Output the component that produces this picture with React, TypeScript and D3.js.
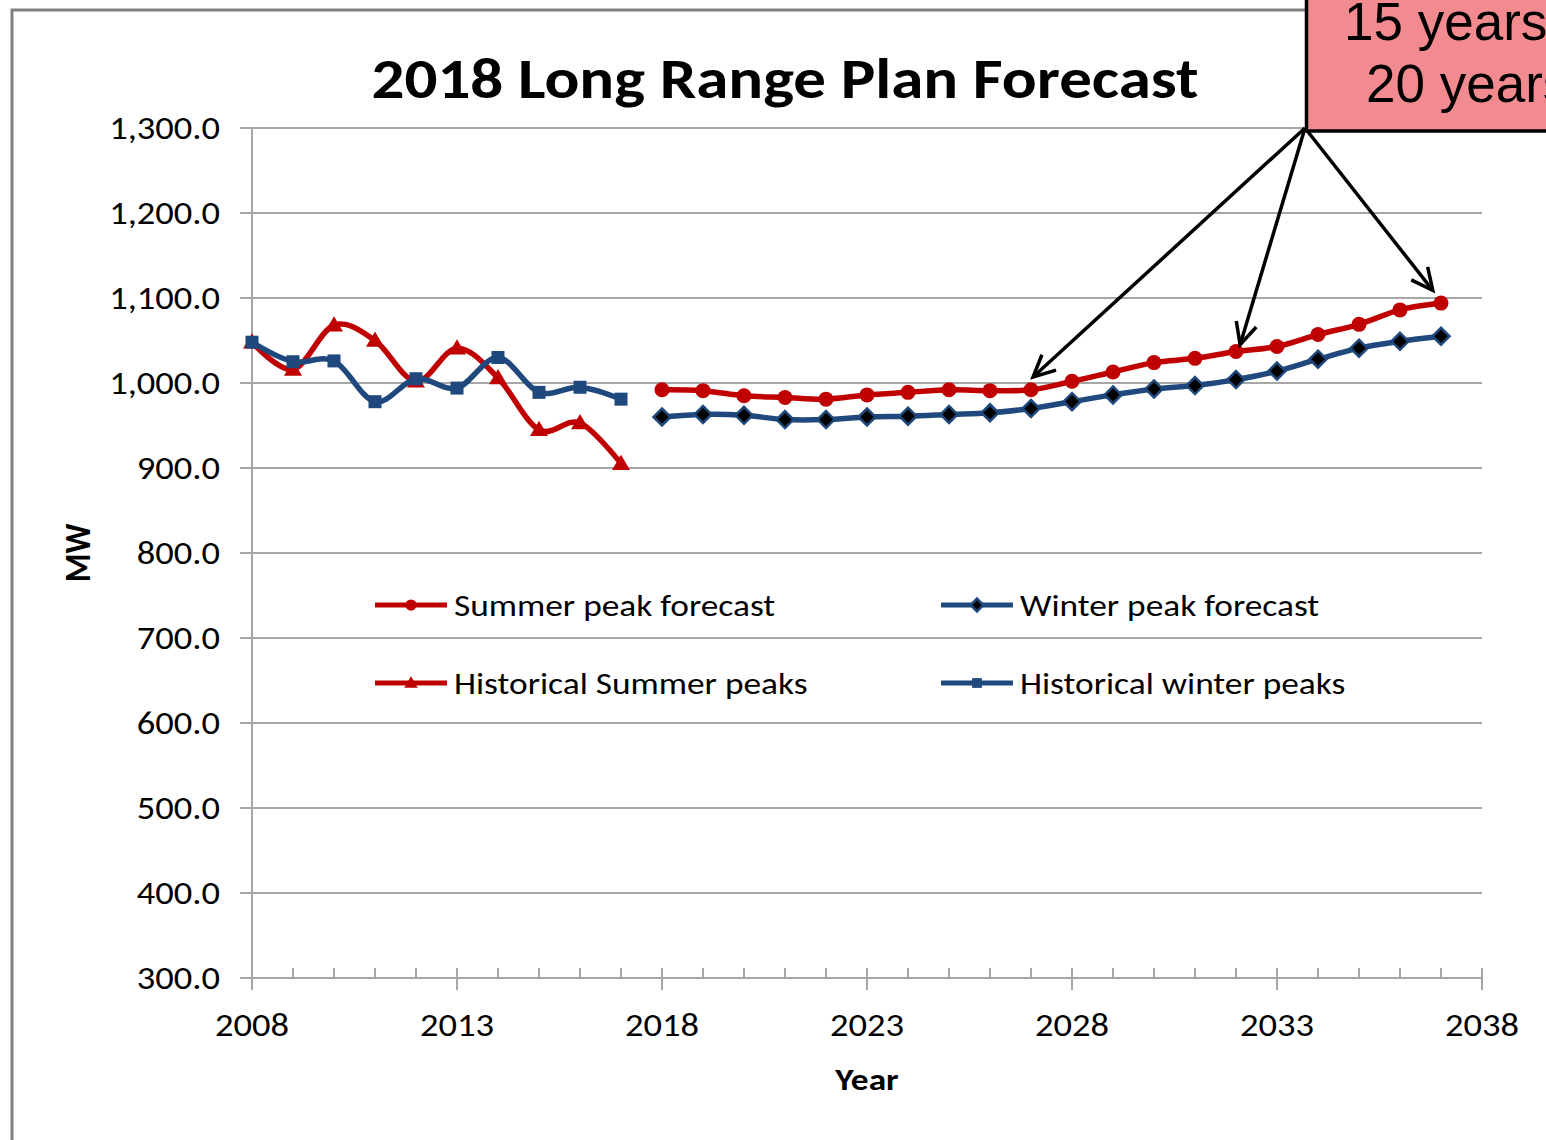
import React from "react";
import * as d3 from "d3";

const histYears = [2008, 2009, 2010, 2011, 2012, 2013, 2014, 2015, 2016, 2017];
const histSummer = [1048, 1016, 1068, 1050, 1002, 1041, 1006, 945, 953, 905];
const histWinter = [1048, 1025, 1026, 978, 1005, 994, 1030, 989, 995, 981];
const fcYears = [2018, 2019, 2020, 2021, 2022, 2023, 2024, 2025, 2026, 2027, 2028, 2029, 2030, 2031, 2032, 2033, 2034, 2035, 2036, 2037];
const fcSummer = [992, 991, 985, 983, 981, 986, 989, 992, 991, 992, 1002, 1013, 1024, 1029, 1037, 1043, 1057, 1069, 1086, 1094];
const fcWinter = [960, 963, 962, 957, 957, 960, 961, 963, 965, 970, 978, 986, 993, 997, 1004, 1014, 1028, 1041, 1049, 1055];
const yTicks = [300, 400, 500, 600, 700, 800, 900, 1000, 1100, 1200, 1300];
const xMajor = [2008, 2013, 2018, 2023, 2028, 2033, 2038];
const xMinor = d3.range(2008, 2039);
const calloutLines = ["15 years", "20 years"];
const legendItems = [
  { label: "Summer peak forecast", kind: "circle", color: "red" },
  { label: "Winter peak forecast", kind: "diamond", color: "blue" },
  { label: "Historical Summer peaks", kind: "triangle", color: "red" },
  { label: "Historical winter peaks", kind: "square", color: "blue" },
];
const arrowTargets = [
  [2027.05, 1007],
  [2032.1, 1045],
  [2036.8, 1109],
];

const RED = "#C00000";
const BLUE = "#1F497D";
const GRID = "#A6A6A6";
const FONT = "Carlito, Lato, 'Open Sans', sans-serif";
const SX = 1.14;

function SText({ x, y, anchor = "start", size, bold = false, children }: any) {
  return (
    <text
      transform={`translate(${x},${y}) scale(${SX},1)`}
      textAnchor={anchor}
      fontFamily={FONT}
      fontWeight={bold ? 700 : 400}
      fontSize={size}
      fill="#000"
    >
      {children}
    </text>
  );
}

function Marker({ kind, x, y, s = 1 }: { kind: string; x: number; y: number; s?: number }) {
  if (kind === "circle") return <circle cx={x} cy={y} r={7.5 * s} fill={RED} />;
  if (kind === "triangle") {
    const r = 9 * s;
    return <path d={`M${x},${y - r}L${x + r},${y + r * 0.7}L${x - r},${y + r * 0.7}Z`} fill={RED} />;
  }
  if (kind === "square") {
    const r = 6.5 * s;
    return <rect x={x - r} y={y - r} width={2 * r} height={2 * r} fill={BLUE} />;
  }
  const r = 8.5 * s;
  return (
    <path d={`M${x},${y - r}L${x + r},${y}L${x},${y + r}L${x - r},${y}Z`} fill="#000" stroke={BLUE} strokeWidth={2.5} />
  );
}

export default function App() {
  const W = 1546, H = 1140;
  const x = d3.scaleLinear().domain([2008, 2038]).range([252, 1482]);
  const y = d3.scaleLinear().domain([300, 1300]).range([978, 128]);
  const line = d3
    .line<[number, number]>()
    .x((d) => x(d[0]))
    .y((d) => y(d[1]))
    .curve(d3.curveCardinal.tension(0));

  const series = [
    { years: histYears, vals: histSummer, color: RED, kind: "triangle" },
    { years: histYears, vals: histWinter, color: BLUE, kind: "square" },
    { years: fcYears, vals: fcSummer, color: RED, kind: "circle" },
    { years: fcYears, vals: fcWinter, color: BLUE, kind: "diamond" },
  ];

  const origin = [1305, 128];
  const arrowHead = (tx: number, ty: number) => {
    const ang = Math.atan2(ty - origin[1], tx - origin[0]);
    const L = 24, a = 0.45;
    const p1 = [tx - L * Math.cos(ang - a), ty - L * Math.sin(ang - a)];
    const p2 = [tx - L * Math.cos(ang + a), ty - L * Math.sin(ang + a)];
    return `M${p1[0]},${p1[1]}L${tx},${ty}L${p2[0]},${p2[1]}`;
  };

  const legendPos = [
    [375, 605],
    [941, 605],
    [375, 683],
    [941, 683],
  ];

  const fmt = d3.format(",.1f");

  return (
    <svg width={W} height={H} style={{ position: "absolute", left: 0, top: 0, display: "block", background: "#fff" }}>
      {/* outer frame */}
      <path d={`M12,${H}L12,10L${W},10`} fill="none" stroke="#808080" strokeWidth={3} />

      {/* title */}
      <SText x={785} y={98} anchor="middle" size={57} bold>
        2018 Long Range Plan Forecast
      </SText>

      {/* gridlines */}
      {yTicks.map((t) => (
        <line key={t} x1={240} x2={1482} y1={y(t)} y2={y(t)} stroke={GRID} strokeWidth={2} />
      ))}
      {/* y axis */}
      <line x1={252} x2={252} y1={128} y2={990} stroke={GRID} strokeWidth={2} />
      {yTicks.map((t) => (
        <SText key={"yl" + t} x={220} y={y(t) + 11} anchor="end" size={32}>
          {fmt(t)}
        </SText>
      ))}
      {/* x ticks */}
      {xMinor.map((t) => (
        <line key={"mi" + t} x1={x(t)} x2={x(t)} y1={968} y2={978} stroke={GRID} strokeWidth={2} />
      ))}
      {xMajor.map((t) => (
        <line key={"ma" + t} x1={x(t)} x2={x(t)} y1={t === 2008 ? 978 : 968} y2={990} stroke={GRID} strokeWidth={2} />
      ))}
      {xMajor.map((t) => (
        <SText key={"xl" + t} x={x(t)} y={1036} anchor="middle" size={32}>
          {t}
        </SText>
      ))}

      {/* axis titles */}
      <SText x={867} y={1090} anchor="middle" size={31} bold>
        Year
      </SText>
      <text
        transform={`translate(90,553) rotate(-90) scale(1,1.1)`}
        textAnchor="middle"
        fontFamily={FONT}
        fontWeight={700}
        fontSize={33}
        fill="#000"
      >
        MW
      </text>

      {/* series */}
      {series.map((s, i) => {
        const pts = s.years.map((yr, j) => [yr, s.vals[j]] as [number, number]);
        return (
          <g key={i}>
            <path d={line(pts) || ""} fill="none" stroke={s.color} strokeWidth={5.5} strokeLinejoin="round" />
            {pts.map((p, j) => (
              <Marker key={j} kind={s.kind} x={x(p[0])} y={y(p[1])} />
            ))}
          </g>
        );
      })}

      {/* legend */}
      {legendItems.map((it, i) => {
        const [lx, ly] = legendPos[i];
        const col = it.color === "red" ? RED : BLUE;
        return (
          <g key={it.label}>
            <line x1={lx} x2={lx + 72} y1={ly} y2={ly} stroke={col} strokeWidth={5} />
            <Marker kind={it.kind} x={lx + 36} y={ly} s={0.75} />
            <SText x={lx + 79} y={ly + 11} size={31}>
              {it.label}
            </SText>
          </g>
        );
      })}

      {/* arrows */}
      {arrowTargets.map((t, i) => {
        const tx = x(t[0]), ty = y(t[1]);
        return (
          <g key={"ar" + i} stroke="#000" strokeWidth={3.5} fill="none">
            <line x1={origin[0]} y1={origin[1]} x2={tx} y2={ty} />
            <path d={arrowHead(tx, ty)} />
          </g>
        );
      })}

      {/* callout box */}
      <rect x={1306.5} y={-10} width={300} height={141} fill="#F28B90" stroke="#000" strokeWidth={3.5} />
      <text x={1344} y={40} fontFamily="'Liberation Sans', Arial, sans-serif" fontSize={53} fill="#000">
        {calloutLines[0]}
      </text>
      <text x={1366} y={102} fontFamily="'Liberation Sans', Arial, sans-serif" fontSize={53} fill="#000">
        {calloutLines[1]}
      </text>
    </svg>
  );
}
